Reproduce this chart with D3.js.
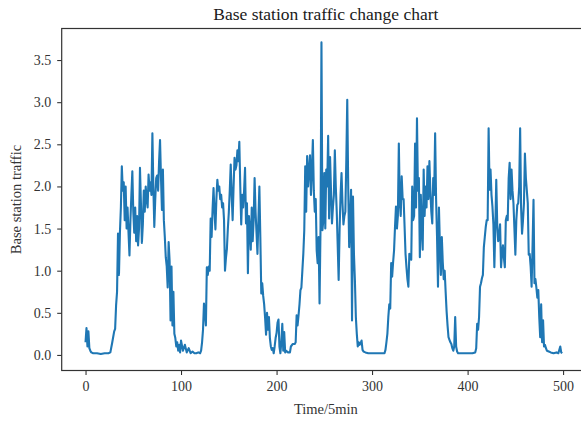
<!DOCTYPE html>
<html>
<head>
<meta charset="utf-8">
<script src="https://cdn.jsdelivr.net/npm/d3@7"></script>
<style>
  body { margin: 0; background: #fff; }
  svg { display: block; font-family: "Liberation Serif", "Times New Roman", serif; }
  svg text { font-family: "Liberation Serif", "Times New Roman", serif; }
</style>
</head>
<body>
<svg id="chart" width="581" height="421"></svg>
<script>
// readings: time index (5 min steps) and traffic value
const timeSteps = [
  0,1,2,3,4,5,6,8,12,16,20,24,26,28,30,31,32,33,34,35,36,37,38,39,40,41,42,43,44,45,46,47,48,49,
  50,51,52,53,54,55,56,57,58,59,60,61,62,63,64,65,66,67,68,69,70,71,72,73,74,75,76,77,78,79,
  80,81,82,83,84,85,86,87,88,89,90,91,92,93,94,95,96,97,98,99,100,102,104,106,108,110,112,114,116,118,
  120,121,122,123,124,125,126,127,128,129,130,131,132,133,134,135,136,137,138,139,140,141,142,143,144,
  145,146,147,148,149,150,151,152,153,154,155,156,157,158,159,160,161,162,163,164,165,166,167,168,169,
  170,171,172,173,174,175,176,177,178,179,180,181,182,183,184,185,186,187,188,189,190,191,192,193,194,
  195,196,197,198,199,200,201,202,203,204,205,206,207,208,209,210,212,214,215,217,219,220,221,222,223,
  224,225,226,227,228,229,230,231,232,233,234,235,236,237,238,239,240,241,242,243,244,245,246,247,248,
  249,250,251,252,253,254,255,256,257,258,259,260,261,262,263,264,265,266,267,268,269,270,271,272,273,
  274,275,276,277,278,279,280,281,282,283,284,285,286,287,288,289,290,291,293,296,300,305,310,313,314,
  315,316,317,318,319,320,321,322,323,324,325,326,327,328,329,330,331,332,333,334,335,336,337,338,339,
  340,341,342,343,344,345,346,347,348,349,350,351,352,353,354,355,356,357,358,359,360,361,362,363,364,
  365,366,367,368,369,370,371,372,373,374,375,376,377,378,379,380,381,382,383,384,385,386,387,388,389,
  390,395,400,405,408,409,410,411,412,413,414,415,416,417,418,419,420,421,422,423,424,425,426,427,428,
  429,430,431,432,433,434,435,436,437,438,439,440,441,442,443,444,445,446,447,448,449,450,451,452,453,
  454,455,456,457,458,459,460,461,462,463,464,465,466,467,468,469,470,471,472,473,474,475,476,477,478,
  479,480,481,482,483,485,487,490,493,495,497,498,499
];
const traffic = [
  0.15,0.32,0.10,0.28,0.08,0.05,0.03,0.02,0.02,0.01,0.02,0.02,0.03,0.15,0.28,0.31,0.59,0.75,1.44,0.95,1.45,1.75,2.24,1.95,2.05,1.6,2.0,1.5,1.75,1.45,1.18,1.6,1.9,2.18,
  1.7,1.45,1.75,1.35,1.65,1.3,1.5,2.22,1.8,1.33,1.55,1.95,1.7,2.0,1.85,1.75,2.14,1.95,2.05,1.9,2.63,2.0,1.52,1.85,2.1,2.13,1.95,2.3,2.55,2.1,
  1.72,2.2,1.6,1.4,1.16,1.05,0.80,1.34,1.12,0.41,1.05,0.35,0.75,0.25,0.2,0.1,0.15,0.05,0.12,0.03,0.17,0.05,0.12,0.03,0.08,0.02,0.04,0.02,0.02,0.03,
  0.02,0.05,0.15,0.3,0.61,0.5,0.35,1.04,0.95,1.05,1.0,1.62,1.4,1.73,1.98,1.7,1.49,1.85,2.08,1.95,2.0,1.85,1.9,1.75,1.8,
  1.6,1.0,1.15,1.26,1.5,1.69,1.95,2.26,1.9,1.6,2.0,2.34,2.2,2.25,2.43,2.3,2.53,2.0,1.55,1.9,1.75,1.95,2.22,1.56,1.8,
  0.97,1.65,1.5,1.25,1.75,1.35,1.6,2.1,1.7,1.45,1.2,1.6,2.0,1.4,0.73,0.85,0.7,0.6,0.44,0.24,0.5,0.3,0.45,0.2,0.1,
  0.06,0.08,0.02,0.1,0.2,0.26,0.38,0.42,0.1,0.02,0.15,0.37,0.05,0.27,0.03,0.05,0.03,0.03,0.10,0.13,0.13,0.15,0.47,0.35,0.47,
  0.6,0.77,0.8,1.0,1.2,1.48,2.24,1.7,2.36,2.0,2.2,2.37,1.9,2.2,2.55,1.95,1.7,1.85,1.24,1.09,1.4,0.61,1.5,3.71,1.48,
  1.6,2.16,1.5,2.2,2.0,2.6,1.62,2.35,1.95,1.56,1.75,1.9,2.43,2.0,1.7,1.3,0.89,1.5,1.9,2.16,1.8,1.55,1.65,1.7,2.3,
  3.03,2.0,1.28,1.6,1.96,0.41,1.88,1.2,0.89,0.45,0.25,0.1,0.15,0.12,0.14,0.17,0.06,0.04,0.03,0.02,0.02,0.02,0.02,0.02,0.06,
  0.15,0.25,0.45,0.6,0.55,1.09,0.93,1.1,1.24,1.52,1.76,1.5,1.65,2.51,1.8,1.65,2.12,1.85,1.85,1.53,1.2,1.04,0.9,0.81,1.2,
  1.15,1.13,2.0,1.6,1.65,2.51,1.75,2.81,1.95,2.1,1.16,1.9,1.5,1.25,2.2,1.65,2.0,1.75,2.24,1.85,2.3,1.95,1.7,1.56,2.1,
  1.9,2.63,1.85,1.4,0.81,1.75,1.3,0.95,1.4,1.1,0.9,1.0,0.75,0.52,0.35,0.21,0.18,0.15,0.13,0.08,0.05,0.1,0.45,0.1,0.04,
  0.02,0.02,0.02,0.02,0.03,0.08,0.37,0.3,0.45,0.81,0.85,0.91,0.95,1.28,1.4,1.52,1.6,1.6,2.69,1.96,2.2,1.9,1.76,1.55,1.04,
  1.5,2.08,1.55,1.35,1.4,1.55,1.04,1.2,1.3,1.15,1.04,1.6,1.65,1.6,2.1,2.28,1.85,2.2,1.95,1.8,1.5,1.19,1.6,1.78,1.8,
  2.0,2.69,1.75,1.44,1.6,1.8,2.39,2.1,1.95,1.8,1.19,1.2,1.05,0.81,1.3,1.84,0.85,0.9,0.8,0.68,0.77,0.45,0.21,0.6,0.15,
  0.41,0.1,0.12,0.08,0.05,0.04,0.03,0.02,0.03,0.02,0.1,0.03,0.02
];
const xTicks = [0, 100, 200, 300, 400, 500];
const yTicks = [0.0, 0.5, 1.0, 1.5, 2.0, 2.5, 3.0, 3.5];

const data = timeSteps.map((t, i) => ({ t: t, v: traffic[i] }));

const svg = d3.select("#chart");
const mLeft = 61.7, mRight = 586, mTop = 28.5, mBottom = 370.5;

// matplotlib style 5% margins around the data
const tExt = d3.extent(data, d => d.t);
const tPad = (tExt[1] - tExt[0]) * 0.05;
const x = d3.scaleLinear().domain([tExt[0] - tPad, tExt[1] + tPad]).range([mLeft, mRight]);
const y = d3.scaleLinear().domain([-0.185, 3.875]).range([mBottom, mTop]);

svg.append("text")
    .attr("x", (mLeft + mRight) / 2 + 2).attr("y", 20)
    .attr("text-anchor", "middle")
    .attr("font-size", 17.5)
    .attr("fill", "#1a1a1a")
    .text("Base station traffic change chart");

const line = d3.line().x(d => x(d.t)).y(d => y(d.v));
svg.append("path")
    .datum(data)
    .attr("fill", "none")
    .attr("stroke", "#1f77b4")
    .attr("stroke-width", 2.1)
    .attr("stroke-linejoin", "round")
    .attr("d", line);

const xAxis = svg.append("g")
    .attr("transform", `translate(0,${mBottom})`)
    .call(d3.axisBottom(x).tickValues(xTicks).tickSize(4.5).tickPadding(6).tickFormat(d3.format("d")));
const yAxis = svg.append("g")
    .attr("transform", `translate(${mLeft},0)`)
    .call(d3.axisLeft(y).tickValues(yTicks).tickSize(4.5).tickPadding(6).tickFormat(d3.format(".1f")));

[xAxis, yAxis].forEach(a => {
    a.attr("font-family", "Liberation Serif, Times New Roman, serif").attr("font-size", 14);
    a.select(".domain").remove();
    a.selectAll("line").attr("stroke", "#222").attr("stroke-width", 1);
    a.selectAll("text").attr("fill", "#333");
});

// spines (right one falls outside the picture)
svg.append("rect")
    .attr("x", mLeft).attr("y", mTop)
    .attr("width", mRight - mLeft).attr("height", mBottom - mTop)
    .attr("fill", "none").attr("stroke", "#333").attr("stroke-width", 1.2);

svg.append("text")
    .attr("x", (mLeft + mRight) / 2 + 2).attr("y", 414)
    .attr("text-anchor", "middle")
    .attr("font-size", 14.5).attr("fill", "#333")
    .text("Time/5min");

svg.append("text")
    .attr("transform", `translate(21,${(mTop + mBottom) / 2}) rotate(-90)`)
    .attr("text-anchor", "middle")
    .attr("font-size", 14.5).attr("fill", "#333")
    .text("Base station traffic");
</script>
</body>
</html>
